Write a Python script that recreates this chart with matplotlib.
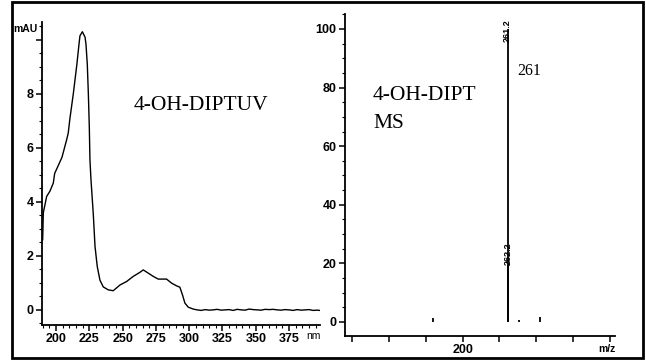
import matplotlib
matplotlib.use("Agg")
import matplotlib.pyplot as plt
from matplotlib.patches import Rectangle
from matplotlib.ticker import MultipleLocator, FixedLocator

# UV spectrum of 4-OH-DIPT (wavelength in nm, absorbance in mAU)
uv_wavelength = [190, 190.5, 193, 195.5, 198, 199, 204.5, 208, 209.2, 210.5, 213,
                 215.7, 217.3, 218, 219.8, 221.8, 222.5, 223.5, 224.3, 225, 225.5,
                 226.3, 228, 229.3, 231, 233, 235.5, 239.3, 243, 248, 253, 258,
                 263, 265.5, 269.3, 273, 276.8, 283, 286.8, 290.5, 293, 295,
                 296.8, 299.3, 303,
                 306, 309, 312, 315, 318, 321, 324, 327, 330, 333, 336, 339,
                 342, 345, 348, 351, 354, 357, 360, 363, 366, 369, 372, 375,
                 378, 381, 384, 387, 390, 393, 396, 398]
uv_absorbance = [2.6, 3.6, 4.2, 4.4, 4.7, 5.05, 5.65, 6.3, 6.55, 7.1, 8.0,
                 9.1, 9.85, 10.15, 10.3, 10.1, 9.85, 9.1, 8.0, 6.8, 5.55,
                 4.8, 3.55, 2.35, 1.6, 1.1, 0.85, 0.74, 0.71, 0.92, 1.05, 1.24,
                 1.39, 1.48, 1.36, 1.24, 1.14, 1.14, 0.99, 0.89, 0.84, 0.55,
                 0.25, 0.1, 0.03,
                 0.00, -0.02, 0.01, -0.01, 0.00, 0.02, -0.01, 0.00, 0.01, -0.02,
                 0.02, 0.00, -0.01, 0.03, 0.01, 0.00, -0.01, 0.02, 0.01, 0.02,
                 0.00, -0.01, 0.01, 0.00, -0.02, 0.01, -0.01, 0.00, 0.01, -0.02,
                 -0.01, -0.02]

# Mass spectrum (m/z, relative abundance %)
ms_mz = [159.8, 261.2, 262.2, 276.5, 305.0]
ms_abundance = [1.4, 100.0, 19.3, 0.7, 1.7]
ms_peak_labels = {261.2: "261.2", 262.2: "262.2"}
base_peak_label = "261"

uv_xticks = [200, 225, 250, 275, 300, 325, 350, 375]
uv_yticks = [0, 2, 4, 6, 8, 10]
uv_ytick_labels = ["0", "2", "4", "6", "8", ""]
ms_xticks = [50, 100, 150, 200, 250, 300, 350, 400]
ms_xtick_labels = ["", "", "", "200", "", "", "", ""]
ms_yticks = [0, 20, 40, 60, 80, 100]

W, H = 646, 360
tick_font = ["Liberation Sans Narrow", "Liberation Sans", "DejaVu Sans"]
label_font = ["Liberation Serif", "DejaVu Serif"]

fig = plt.figure(figsize=(W / 100, H / 100), dpi=100)


def fx(px):
    return px / W


def fy(py):
    # pixel rows counted from the top edge
    return 1 - py / H


def px_axes(x0, y0, x1, y1):
    return fig.add_axes([fx(x0), fy(y1), (x1 - x0) / W, (y1 - y0) / H])


def style_axes(ax):
    for side in ("top", "right"):
        ax.spines[side].set_visible(False)
    for side in ("left", "bottom"):
        ax.spines[side].set_linewidth(1.3)
    ax.tick_params(which="major", direction="out", length=4, width=1.1,
                   labelsize=9, pad=2)
    ax.tick_params(which="minor", direction="out", length=2, width=0.8)
    for lab in ax.get_xticklabels() + ax.get_yticklabels():
        lab.set_family(tick_font)
        lab.set_fontweight("bold")


# ---- UV panel ----
ax1 = px_axes(42, 22, 320, 325)
ax1.plot(uv_wavelength, uv_absorbance, color="black", lw=1.0)
ax1.set_xlim(189.5, 398.2)
ax1.set_ylim(-0.56, 10.66)
ax1.xaxis.set_major_locator(FixedLocator(uv_xticks))
ax1.xaxis.set_minor_locator(MultipleLocator(5))
ax1.yaxis.set_major_locator(FixedLocator(uv_yticks))
ax1.set_yticklabels(uv_ytick_labels)
ax1.yaxis.set_minor_locator(MultipleLocator(0.5))
style_axes(ax1)
fig.text(fx(134), fy(110), "4-OH-DIPTUV", fontsize=15.5,
         family=label_font, va="baseline", ha="left")

# ---- MS panel ----
ax2 = px_axes(345, 14, 615, 336)
ax2.vlines(ms_mz, 0, ms_abundance, color="black", lw=1.3)
ax2.set_xlim(40.5, 406.8)
ax2.set_ylim(-4.78, 105.1)
ax2.xaxis.set_major_locator(FixedLocator(ms_xticks))
ax2.set_xticklabels(ms_xtick_labels)
ax2.yaxis.set_major_locator(FixedLocator(ms_yticks))
ax2.yaxis.set_minor_locator(MultipleLocator(5))
style_axes(ax2)
for mz, ab in zip(ms_mz, ms_abundance):
    if mz in ms_peak_labels:
        ax2.text(mz, ab - 4.5 if ab > 50 else ab, ms_peak_labels[mz],
                 rotation=90, ha="center", va="bottom", fontsize=6.5,
                 family=tick_font, fontweight="bold")
fig.text(fx(373), fy(100), "4-OH-DIPT", fontsize=15.5,
         family=label_font, va="baseline", ha="left")
fig.text(fx(373), fy(128), "MS", fontsize=15.5,
         family=label_font, va="baseline", ha="left")

# m/z annotation next to the base peak
ax2.text(ms_mz[1] + 12.5, 85.8, base_peak_label, fontsize=11.5,
         family=label_font, va="center", ha="left")

# axis unit labels
fig.text(fx(13), fy(29), "mAU", fontsize=7.5, family=tick_font,
         fontweight="bold", va="center", ha="left")
fig.text(fx(313), fy(336), "nm", fontsize=7.5, family=tick_font,
         va="center", ha="center")
fig.text(fx(607), fy(349), "m/z", fontsize=7.5, family=tick_font,
         fontweight="bold", va="center", ha="center")

# outer frame
fig.patches.append(Rectangle((fx(12), fy(358)), 631 / W, 356 / H,
                             transform=fig.transFigure, fill=False,
                             edgecolor="black", lw=2.0))

fig.savefig("out.png", dpi=100)
